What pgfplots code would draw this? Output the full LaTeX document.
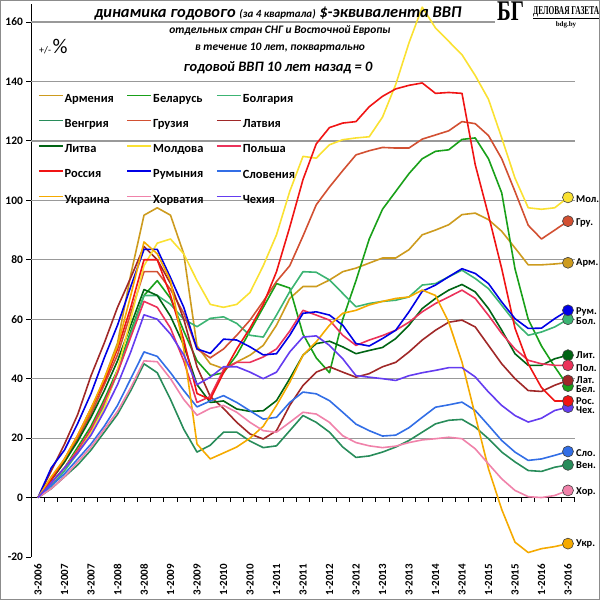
\documentclass[border=0pt]{standalone}
\usepackage{fontspec}
\setmainfont{Carlito}
\newfontfamily\serifB{Liberation Serif}
\usepackage{graphicx}
\usepackage{pgfplots}
\pgfplotsset{compat=1.18}
\usepackage{pgfplotstable}

\definecolor{cArm}{RGB}{205,155,30}
\definecolor{cBel}{RGB}{25,160,25}
\definecolor{cBol}{RGB}{60,180,115}
\definecolor{cVen}{RGB}{40,140,90}
\definecolor{cGru}{RGB}{210,80,50}
\definecolor{cLat}{RGB}{160,40,40}
\definecolor{cLit}{RGB}{0,100,20}
\definecolor{cMol}{RGB}{250,225,50}
\definecolor{cPol}{RGB}{235,50,90}
\definecolor{cRos}{RGB}{240,20,20}
\definecolor{cRum}{RGB}{0,0,230}
\definecolor{cSlo}{RGB}{50,110,230}
\definecolor{cUkr}{RGB}{245,170,0}
\definecolor{cHor}{RGB}{240,130,170}
\definecolor{cChe}{RGB}{100,60,240}

\newcommand\legfont{\fontsize{12.5}{13}\selectfont\bfseries}
\newcommand\xfont{\fontsize{11}{11}\selectfont\bfseries}
\newcommand\yfont{\fontsize{11.5}{12}\selectfont\bfseries}
\newcommand\lblfont{\fontsize{10.5}{11}\selectfont\bfseries}

\pgfplotstableread{
i arm bel bol ven gru lat lit mol pol ros rum slo ukr hor che
0 0 0 0 0 0 0 0 0 0 0 0 0 0 0 0
1 6 5 4 3 6 9 6 5 5 6 10 4 7 3 5
2 12 10 9 7 12 18 12 10 10 13 16 8 13 7 10
3 20 17 15 11 20 28 19 16 16 21 25 13 21 12 15
4 29 24 22 16 28 41 27 22 23 30 35 18 30 17 21
5 40 33 31 22 38 52 36 30 32 39 47 24 40 23 29
6 52 43 42 28 48 64 46 43 42 50 58 31 51 29 38
7 75 56 55 36 62 74 58 60 54 64 71 40 68 37 49
8 95 68 68 45 76 84.5 70 78 66 80 83.5 49 86 46 61.5
9 97.5 73 68 42 76 80 68 85.6 64 80 83.5 47.5 82 45.7 60
10 95 67 65 33 70 72 61 87 57 68 74 42 73 40 55
11 82 56 60 23 62 60 51.3 82 46 53 64 36 50 33 48
12 51 46 57.5 15.3 50 44 38 73 32 35 50 30.5 18 27.7 38
13 45 41 60.3 17.6 47 34 32 65 34 33 48.5 32.5 13 30 40.5
14 43.4 42 60.8 22 50 30 32.5 64 43 42 53.3 34.3 15 31 44
15 45.6 48 58.6 22 54.6 25.3 29.8 65 45.5 50 53 32 17 28.7 44
16 47.9 56 54.6 19 59.7 21.4 29 69 45.5 57 50.7 29.2 20 25.3 42.2
17 51.2 64 54 16.8 66 19.7 29.2 78 47.3 65 48 26.4 24 22.5 40
18 58 72 61.4 17.4 72.7 22.5 32.6 88.4 50 76 48.4 27 31 22 42.2
19 67 70.5 69.3 22.5 78 31 40 103 56 91 54.6 32 38.8 25.3 49
20 71 55 76 27.6 88 37.7 47.9 114.8 63 107 62 35.5 47.9 28.7 54
21 71 47 75.8 25.3 98.5 42.2 51.8 114.2 61.4 119 62.5 34.9 52.4 28.1 54.4
22 73.2 42 73.2 22 104.5 44 52.6 118.7 59.7 124.5 61.4 32.6 58 25.3 51.2
23 76 60 68.7 17 110 42.2 50.7 120.4 54.6 126 58 28.7 62 20.8 46.7
24 77.2 73 64.2 13.5 115.3 40.5 48.4 121 51.2 126.5 51.8 24.7 63 18.5 41
25 78.9 87 65.3 14 116.7 41.7 49.5 121.4 53 131.5 51 22.5 64.8 17.4 40.5
26 80.6 97 66 15.3 117.8 44 50.5 128 54.5 135 53.5 20.7 66 16.8 40
27 80.6 103 66.4 17 117.6 45.5 53.5 139 56.3 137.5 56.3 21 67 17.3 39.4
28 83.4 109 67.5 19.2 117.6 49 58 153 59 138.7 62.5 23.5 67.5 18.5 41
29 88.4 114 71.5 22 120.6 53 63.6 165 62.5 139.5 69.4 27 69.8 19.4 42
30 90 116.5 72 24.8 122 56.3 67 158 65.3 136 71.5 30.4 68 19.8 42.8
31 91.8 117 74.3 26 123.4 59 69.8 153.5 67.5 136.3 74.3 31.2 59 20.3 43.7
32 95.2 120.5 76.5 26.3 126.5 59.7 71.7 149 69.8 136 77 32.1 45.6 19.8 43.7
33 95.7 121 73.7 23.7 125.8 57.4 69.2 142 67 112 75.4 29.3 27.6 16.4 40.6
34 93.5 114 70.3 19.8 121.8 51.2 63.6 134 61.3 95 72 24.3 9.7 11.3 35.5
35 89.6 102.5 64.7 15.3 114 45 56.3 121 55.2 77 65.8 19.2 -4 6.3 31
36 84 77 59 12 103 40 48.4 107.5 50 57 60.2 15.3 -15 2.4 27.6
37 78.3 60 54.6 9.1 91.6 36 44.5 97.5 46.2 45 56.9 12.5 -18.5 0.3 25.4
38 78.3 51 55.7 8.8 87 35.7 44.5 97 45 37 57 13 -17.2 0 26.7
39 78.6 44 57.4 10.2 90 37.8 46.7 97.5 44.5 32.5 60.2 14.2 -16.5 0.7 29.3
40 79 37.5 60 11 93 39.4 47.9 101 44.5 32.5 63 15.5 -15.5 2.4 30.4
}\data

\begin{document}
\begin{tikzpicture}
\begin{axis}[
  at={(31.4bp,43bp)}, anchor=south west,
  scale only axis, width=543.2bp, height=552.8bp,
  xmin=-0.5, xmax=40.5, ymin=-20, ymax=166,
  clip=false,
  axis x line*=bottom, axis y line*=left,
  x axis line style={draw=none},
  y axis line style={black, line width=1bp},
  xtick={0,2,...,40},
  xticklabels={3-2006,1-2007,3-2007,1-2008,3-2008,1-2009,3-2009,1-2010,3-2010,1-2011,3-2011,1-2012,3-2012,1-2013,3-2013,1-2014,3-2014,1-2015,3-2015,1-2016,3-2016},
  xtick style={draw=none},
  xticklabel style={rotate=90, anchor=east, font=\xfont, inner sep=2bp},
  ytick={-20,0,20,40,60,80,100,120,140,160},
  yticklabels={-20,0,20,40,60,80,100,120,140,160},
  ytick style={black, line width=1bp},
  tick align=outside, major tick length=5bp,
  yticklabel style={font=\yfont},
  extra y ticks={20,40,60,80,100,120,140,160},
  extra y tick labels={},
  extra y tick style={grid=major, major tick length=0pt, grid style={black!40, line width=1.2bp}},
  every axis plot/.append style={line width=1.6bp, line join=round, mark=none},
  legend columns=3,
  legend image code/.code={\draw[#1, line width=1.6bp] (0bp,3.5bp) -- (24bp,3.5bp);},
  legend style={at={(0.01215,0.8375)}, anchor=north west, draw=none, fill=none,
    inner sep=0pt, outer sep=0pt, font=\legfont, row sep=15.7bp,
    /tikz/every odd column/.append style={column sep=1bp},
    nodes={inner sep=0pt}},
  legend cell align=left,
]
\draw[black, line width=1bp] (axis cs:-0.5,0) -- (axis cs:40.5,0);
\pgfplotsinvokeforeach{-0.5,0.5,...,40.5}{\draw[black, line width=0.8bp] (axis cs:#1,0) -- ++(0bp,-4bp);}

\addplot[cArm] table[x=i,y=arm]{\data}; \addlegendentry{\makebox[62bp][l]{Армения}}
\addplot[cBel] table[x=i,y=bel]{\data}; \addlegendentry{\makebox[63bp][l]{Беларусь}}
\addplot[cBol] table[x=i,y=bol]{\data}; \addlegendentry{\makebox[62bp][l]{Болгария}}
\addplot[cVen] table[x=i,y=ven]{\data}; \addlegendentry{Венгрия}
\addplot[cGru] table[x=i,y=gru]{\data}; \addlegendentry{Грузия}
\addplot[cLat] table[x=i,y=lat]{\data}; \addlegendentry{Латвия}
\addplot[cLit] table[x=i,y=lit]{\data}; \addlegendentry{Литва}
\addplot[cMol] table[x=i,y=mol]{\data}; \addlegendentry{Молдова}
\addplot[cPol] table[x=i,y=pol]{\data}; \addlegendentry{Польша}
\addplot[cRos] table[x=i,y=ros]{\data}; \addlegendentry{Россия}
\addplot[cRum] table[x=i,y=rum]{\data}; \addlegendentry{Румыния}
\addplot[cSlo] table[x=i,y=slo]{\data}; \addlegendentry{Словения}
\addplot[cUkr] table[x=i,y=ukr]{\data}; \addlegendentry{Украина}
\addplot[cHor] table[x=i,y=hor]{\data}; \addlegendentry{Хорватия}
\addplot[cChe] table[x=i,y=che]{\data}; \addlegendentry{Чехия}

\pgfplotsset{endmk/.style={forget plot, only marks, mark=*, mark size=5.5bp, mark options={draw=black!75, line width=0.6bp, fill=#1}}}
\addplot[endmk=cMol] coordinates {(40,101)};
\addplot[endmk=cGru] coordinates {(40,93)};
\addplot[endmk=cArm] coordinates {(40,79)};
\addplot[endmk=cBol] coordinates {(40,60)};
\addplot[endmk=cRum] coordinates {(40,63)};
\addplot[endmk=cBel] coordinates {(40,37.5)};
\addplot[endmk=cLat] coordinates {(40,39.4)};
\addplot[endmk=cLit] coordinates {(40,47.9)};
\addplot[endmk=cPol] coordinates {(40,44.5)};
\addplot[endmk=cChe] coordinates {(40,30.4)};
\addplot[endmk=cRos] coordinates {(40,32.5)};
\addplot[endmk=cSlo] coordinates {(40,15.5)};
\addplot[endmk=cVen] coordinates {(40,11)};
\addplot[endmk=cHor] coordinates {(40,2.4)};
\addplot[endmk=cUkr] coordinates {(40,-15.5)};

\node[anchor=west, inner sep=0pt, xshift=8bp, font=\lblfont] at (axis cs:40,100.3) {Мол.};
\node[anchor=west, inner sep=0pt, xshift=8bp, font=\lblfont] at (axis cs:40,92.5) {Гру.};
\node[anchor=west, inner sep=0pt, xshift=8bp, font=\lblfont] at (axis cs:40,78.8) {Арм.};
\node[anchor=west, inner sep=0pt, xshift=8bp, font=\lblfont] at (axis cs:40,62.6) {Рум.};
\node[anchor=west, inner sep=0pt, xshift=8bp, font=\lblfont] at (axis cs:40,59.2) {Бол.};
\node[anchor=west, inner sep=0pt, xshift=8bp, font=\lblfont] at (axis cs:40,47.9) {Лит.};
\node[anchor=west, inner sep=0pt, xshift=8bp, font=\lblfont] at (axis cs:40,43.7) {Пол.};
\node[anchor=west, inner sep=0pt, xshift=8bp, font=\lblfont] at (axis cs:40,39.6) {Лат.};
\node[anchor=west, inner sep=0pt, xshift=8bp, font=\lblfont] at (axis cs:40,36.4) {Бел.};
\node[anchor=west, inner sep=0pt, xshift=8bp, font=\lblfont] at (axis cs:40,32.6) {Рос.};
\node[anchor=west, inner sep=0pt, xshift=8bp, font=\lblfont] at (axis cs:40,29.4) {Чех.};
\node[anchor=west, inner sep=0pt, xshift=8bp, font=\lblfont] at (axis cs:40,15.1) {Сло.};
\node[anchor=west, inner sep=0pt, xshift=8bp, font=\lblfont] at (axis cs:40,10.8) {Вен.};
\node[anchor=west, inner sep=0pt, xshift=8bp, font=\lblfont] at (axis cs:40,2) {Хор.};
\node[anchor=west, inner sep=0pt, xshift=8bp, font=\lblfont] at (axis cs:40,-15.5) {Укр.};
\end{axis}

% title
\node[font=\bfseries\itshape\fontsize{16.5}{17}\selectfont] at (278bp,586bp)
  {динамика годового {\fontsize{11}{11}\selectfont(за 4 квартала)} \$-эквивалента ВВП};
\node[font=\bfseries\itshape\fontsize{11.5}{12}\selectfont] at (280bp,569bp)
  {отдельных стран СНГ и Восточной Европы};
\node[font=\bfseries\itshape\fontsize{11.5}{12}\selectfont] at (280bp,552bp)
  {в течение 10 лет, поквартально};
\node[font=\bfseries\itshape\fontsize{14.5}{15}\selectfont] at (278bp,532bp)
  {годовой ВВП 10 лет назад = 0};
\node[anchor=base west, inner sep=0pt] at (39bp,546bp)
  {{\fontsize{10}{10}\selectfont +/-}\,{\fontsize{21}{21}\selectfont \%}};

% logo
\fill[white] (495bp,569bp) rectangle (600bp,600bp);
\node[anchor=north west, inner sep=0pt] at (497bp,598bp)
  {\scalebox{0.8}[1.1]{\serifB\bfseries\fontsize{26}{26}\selectfont БГ}};
\node[anchor=west, inner sep=0pt] at (533bp,587bp)
  {\scalebox{0.62}[1]{\serifB\bfseries\fontsize{12}{12}\selectfont\underline{ДЕЛОВАЯ ГАЗЕТА}}};
\node[inner sep=0pt] at (566bp,575bp) {\serifB\bfseries\fontsize{7}{7}\selectfont bdg.by};

\draw[black!45, line width=1.2bp] (0.6bp,0.6bp) rectangle (599.4bp,599.4bp);
\pgfresetboundingbox
\useasboundingbox (0bp,0bp) rectangle (600bp,600bp);
\end{tikzpicture}
\end{document}
